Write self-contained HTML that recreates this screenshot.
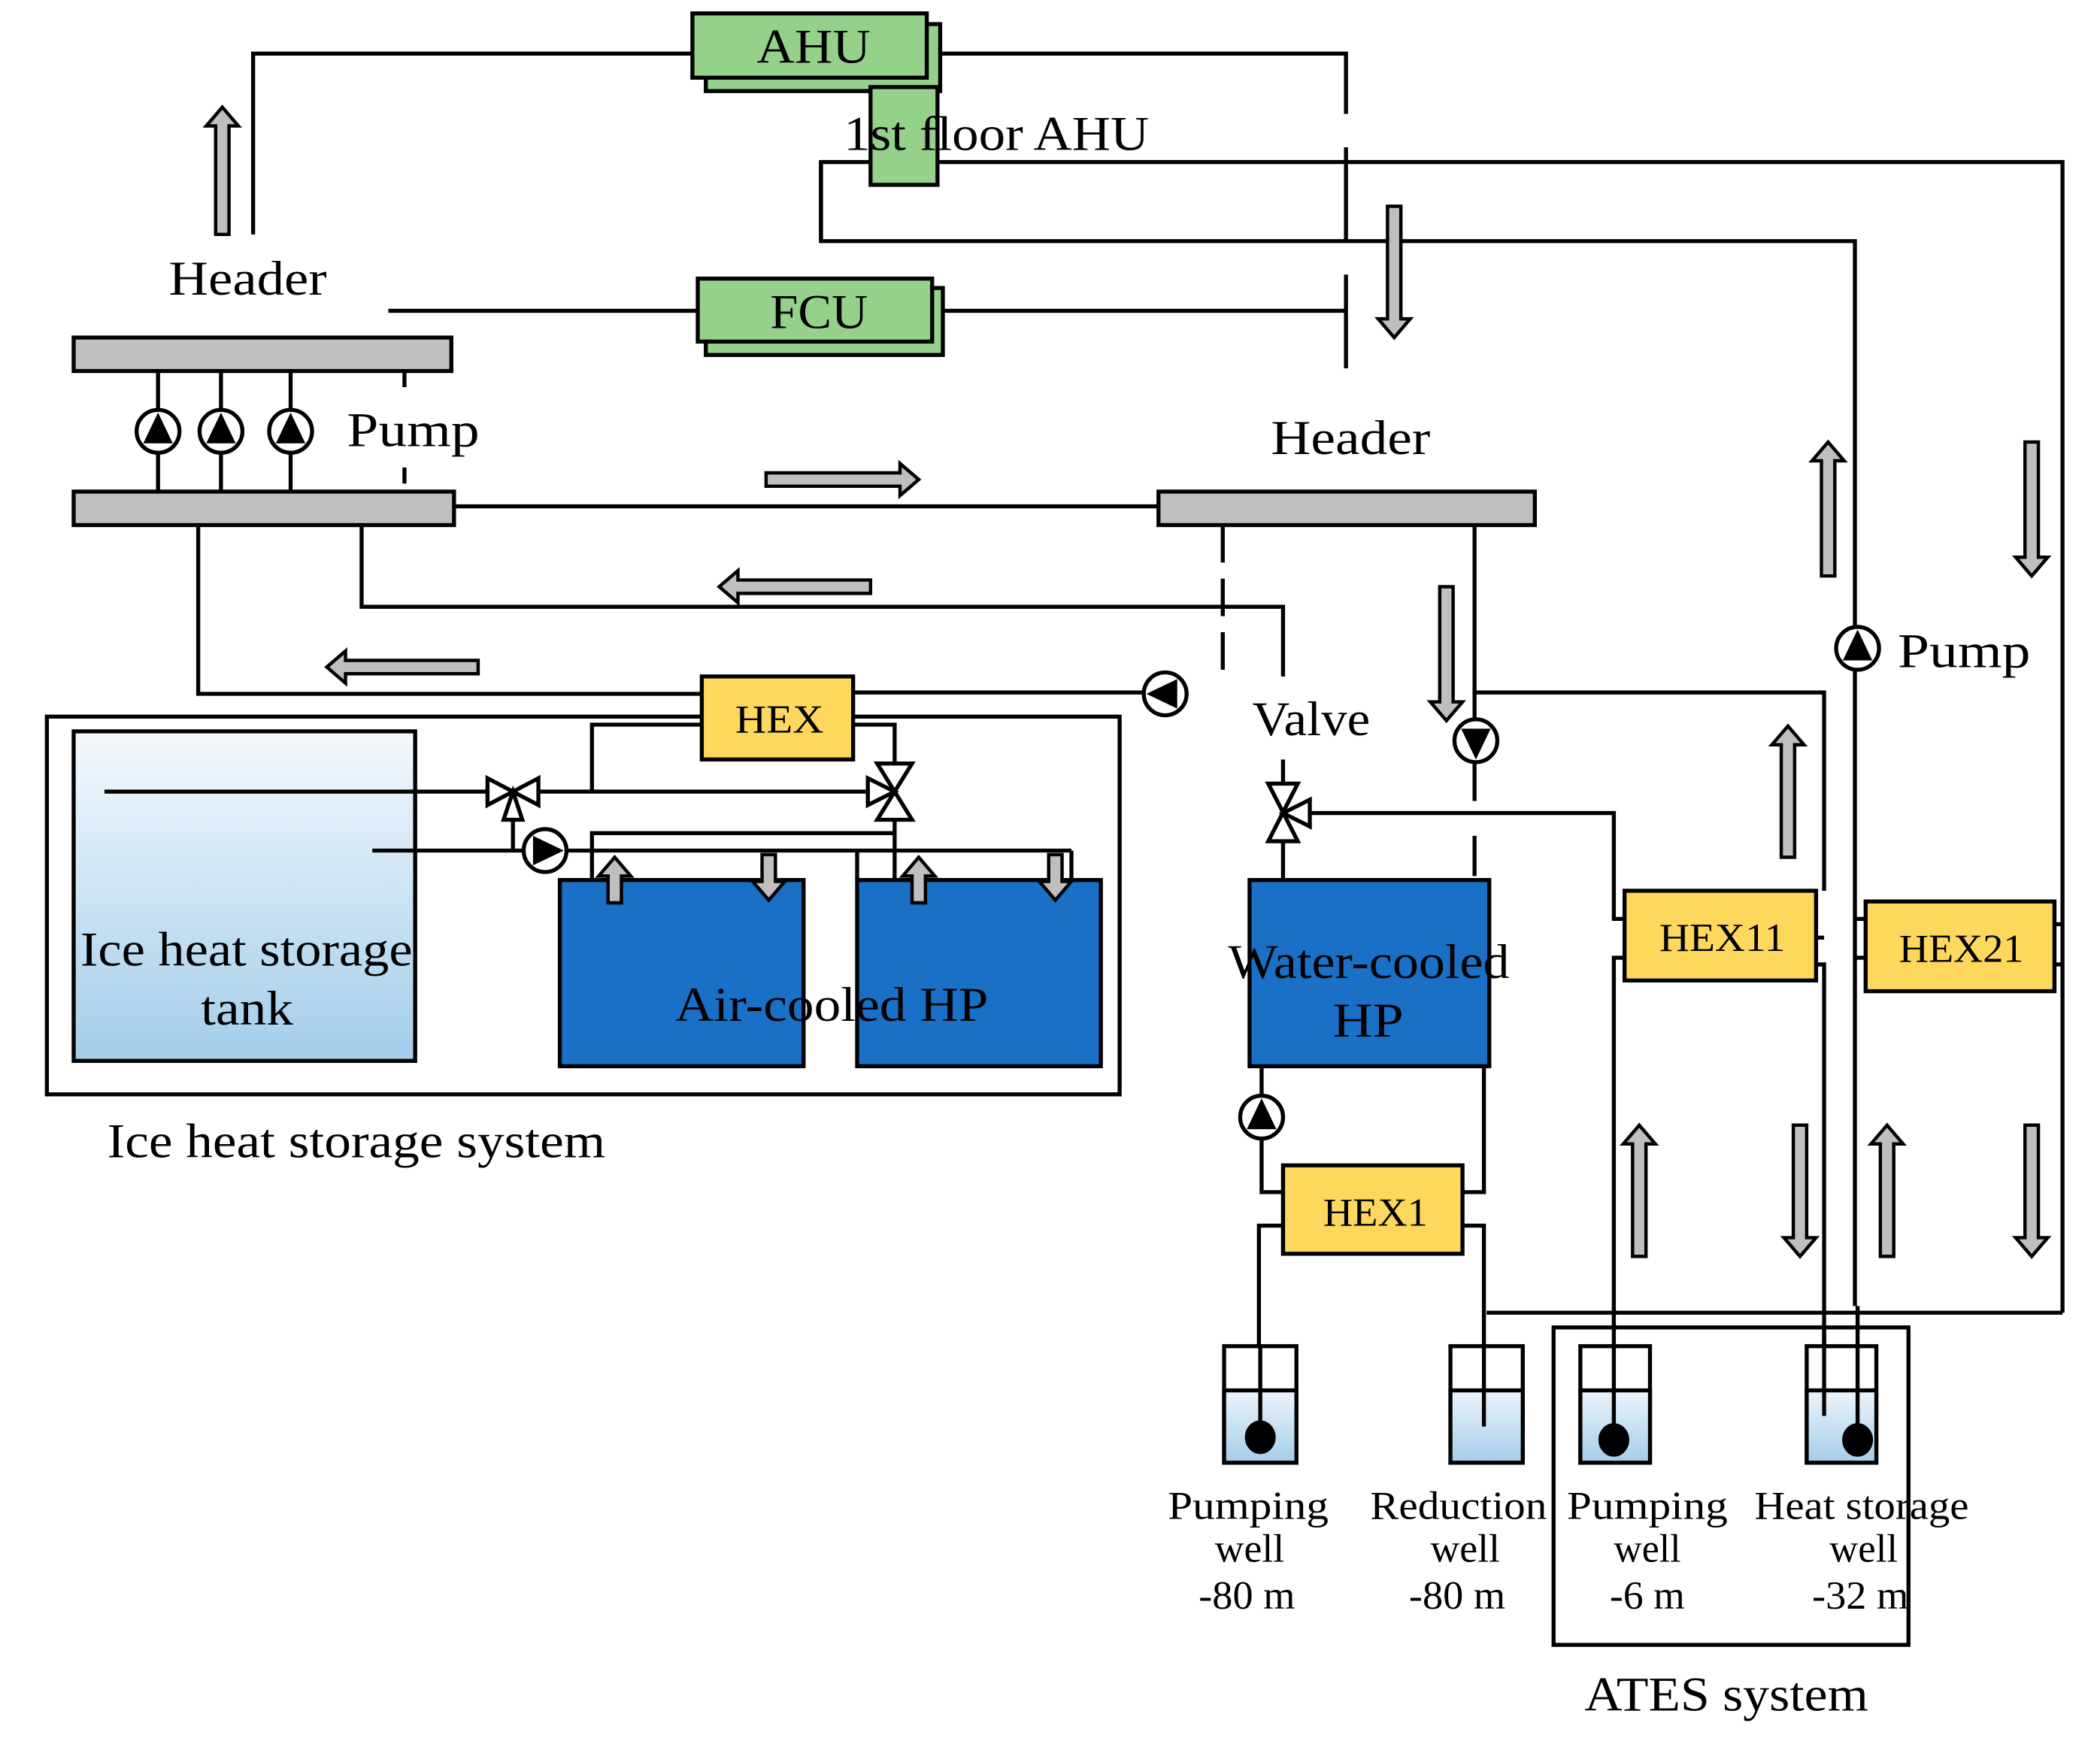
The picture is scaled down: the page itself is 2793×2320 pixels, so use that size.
<!DOCTYPE html>
<html><head><meta charset="utf-8"><style>
html,body{margin:0;padding:0;background:#fff}
svg{display:block}
text{font-family:"Liberation Serif",serif;fill:#000}
</style></head><body>
<svg width="2793" height="2320" viewBox="0 0 1568 1302" preserveAspectRatio="none" xmlns="http://www.w3.org/2000/svg">
<defs>
<linearGradient id="tk" x1="0" y1="0" x2="0" y2="1"><stop offset="0" stop-color="#f4f9fd"/><stop offset="1" stop-color="#a3cdea"/></linearGradient>
<linearGradient id="wl" x1="0" y1="0" x2="0" y2="1"><stop offset="0" stop-color="#eef5fb"/><stop offset="1" stop-color="#a3cdea"/></linearGradient>
</defs>
<g stroke="#000" stroke-width="3">
<rect x="55" y="546" width="255" height="246" fill="url(#tk)"/>
</g>
<g fill="none" stroke="#000" stroke-width="3">
<polyline points="189,175 189,40 517,40"/>
<polyline points="692,40 1005,40 1005,85"/>
<line x1="1005" y1="110" x2="1005" y2="290" stroke-dasharray="70,25"/>
<polyline points="613,180 613,121 1540,121 1540,980"/>
<polyline points="613,121 613,180 1385,180 1385,975"/>
<line x1="290" y1="232" x2="521" y2="232"/>
<line x1="704" y1="232" x2="1005" y2="232"/>
<line x1="118" y1="277" x2="118" y2="367"/>
<line x1="165" y1="277" x2="165" y2="367"/>
<line x1="217" y1="277" x2="217" y2="367"/>
<line x1="302" y1="277" x2="302" y2="367" stroke-dasharray="12,60"/>
<line x1="339" y1="378" x2="865" y2="378"/>
<polyline points="148,392 148,518 524,518"/>
<polyline points="270,392 270,453 958,453 958,505"/>
<line x1="637" y1="517" x2="855" y2="517"/>
<line x1="913" y1="392" x2="913" y2="505" stroke-dasharray="28,12"/>
<line x1="1101" y1="392" x2="1101" y2="540"/>
<line x1="1101" y1="568" x2="1101" y2="655" stroke-dasharray="30,26"/>
<rect x="35" y="535" width="801" height="282"/>
<line x1="78" y1="591" x2="366" y2="591"/>
<line x1="400" y1="591" x2="650" y2="591"/>
<polyline points="442,591 442,541 524,541"/>
<polyline points="637,541 668,541 668,572"/>
<line x1="278" y1="635" x2="392" y2="635"/>
<line x1="422" y1="635" x2="800" y2="635"/>
<line x1="383" y1="605" x2="383" y2="635"/>
<polyline points="442,657 442,622 668,622"/>
<line x1="668" y1="610" x2="668" y2="657"/>
<line x1="800" y1="635" x2="800" y2="657"/>
<line x1="640" y1="635" x2="640" y2="657"/>
<line x1="958" y1="505" x2="958" y2="590" stroke-dasharray="0,62,40"/>
<line x1="958" y1="625" x2="958" y2="657"/>
<polyline points="975,607 1205,607 1205,686 1213,686"/>
<polyline points="1101,517 1362,517 1362,665"/>
<polyline points="1356,700 1362,700"/>
<polyline points="1205,975 1205,715 1213,715"/>
<polyline points="1362,1005 1362,720 1356,720"/>
<polyline points="1385,686 1393,686"/>
<polyline points="1385,715 1393,715"/>
<polyline points="1534,690 1540,690"/>
<polyline points="1534,720 1540,720"/>
<polyline points="1110,980 1540,980"/>
<polyline points="942,796 942,818"/>
<polyline points="942,850 942,890 958,890"/>
<polyline points="1108,796 1108,890 1092,890"/>
<polyline points="958,915 940,915 940,1060"/>
<polyline points="1092,915 1108,915 1108,1060"/>
<line x1="1205" y1="975" x2="1205" y2="1075"/>
<line x1="1362" y1="990" x2="1362" y2="1040"/>
<line x1="1387" y1="975" x2="1387" y2="1075"/>
<rect x="1160" y="991" width="265" height="237"/>
</g>
<g stroke="#000" stroke-width="3">
<rect x="527" y="18" width="175" height="50" fill="#95d18b"/>
<rect x="517" y="10" width="175" height="48" fill="#95d18b"/>
<rect x="650" y="65" width="50" height="73" fill="#95d18b"/>
<rect x="527" y="215" width="177" height="50" fill="#95d18b"/>
<rect x="521" y="208" width="175" height="47" fill="#95d18b"/>
<rect x="55" y="252" width="282" height="25" fill="#bfbfbf"/>
<rect x="55" y="367" width="284" height="25" fill="#bfbfbf"/>
<rect x="865" y="367" width="281" height="25" fill="#bfbfbf"/>
<rect x="524" y="505" width="113" height="62" fill="#fdd85d"/>
<rect x="418" y="657" width="182" height="139" fill="#1a6fc6"/>
<rect x="640" y="657" width="182" height="139" fill="#1a6fc6"/>
<rect x="933" y="657" width="179" height="139" fill="#1a6fc6"/>
<rect x="958" y="870" width="134" height="66" fill="#fdd85d"/>
<rect x="1213" y="665" width="143" height="67" fill="#fdd85d"/>
<rect x="1393" y="673" width="141" height="67" fill="#fdd85d"/>
</g>
<g stroke="#000" stroke-width="3">
<g><rect x="914" y="1005" width="54" height="87" fill="#fff"/><rect x="914" y="1038" width="54" height="54" fill="url(#wl)"/><line x1="941" y1="1005" x2="941" y2="1065"/><ellipse cx="941" cy="1073" rx="10" ry="11" fill="#000"/></g>
<g><rect x="1083" y="1005" width="54" height="87" fill="#fff"/><rect x="1083" y="1038" width="54" height="54" fill="url(#wl)"/><line x1="1108" y1="1005" x2="1108" y2="1065"/></g>
<g><rect x="1180" y="1005" width="52" height="87" fill="#fff"/><rect x="1180" y="1038" width="52" height="54" fill="url(#wl)"/><line x1="1205" y1="1005" x2="1205" y2="1065"/><ellipse cx="1205" cy="1075" rx="10" ry="11" fill="#000"/></g>
<g><rect x="1349" y="1005" width="52" height="87" fill="#fff"/><rect x="1349" y="1038" width="52" height="54" fill="url(#wl)"/><line x1="1362" y1="990" x2="1362" y2="1057"/><line x1="1387" y1="1005" x2="1387" y2="1065"/><ellipse cx="1387" cy="1075" rx="10" ry="11" fill="#000"/></g>
</g>
<g stroke="#000" stroke-width="3">
<g transform="translate(118,322)"><circle r="16" fill="#fff"/><polygon points="0,-14 11,9 -11,9" fill="#000" stroke="none"/></g>
<g transform="translate(165,322)"><circle r="16" fill="#fff"/><polygon points="0,-14 11,9 -11,9" fill="#000" stroke="none"/></g>
<g transform="translate(217,322)"><circle r="16" fill="#fff"/><polygon points="0,-14 11,9 -11,9" fill="#000" stroke="none"/></g>
<g transform="translate(870,518) rotate(-90)"><circle r="16" fill="#fff"/><polygon points="0,-14 11,9 -11,9" fill="#000" stroke="none"/></g>
<g transform="translate(407,635) rotate(90)"><circle r="16" fill="#fff"/><polygon points="0,-14 11,9 -11,9" fill="#000" stroke="none"/></g>
<g transform="translate(1102,553) rotate(180)"><circle r="16" fill="#fff"/><polygon points="0,-14 11,9 -11,9" fill="#000" stroke="none"/></g>
<g transform="translate(942,834)"><circle r="16" fill="#fff"/><polygon points="0,-14 11,9 -11,9" fill="#000" stroke="none"/></g>
<g transform="translate(1387,484)"><circle r="16" fill="#fff"/><polygon points="0,-14 11,9 -11,9" fill="#000" stroke="none"/></g>
</g>
<g stroke="#000" stroke-width="3" fill="#fff">
<polygon points="364,581 364,601 402,581 402,601"/>
<polygon points="383,591 376,612 390,612"/>
<polygon points="655,570 681,570 655,612 681,612"/>
<polygon points="668,591 648,581 648,601"/>
<polygon points="947,585 969,585 947,628 969,628"/>
<polygon points="958,607 978,597 978,617"/>
</g>
<g fill="#bfbfbf" stroke="#000" stroke-width="2.5">
<polygon transform="translate(166,80)" points="0,0 12,14 5,14 5,95 -5,95 -5,14 -12,14"/>
<polygon transform="translate(1041,252) rotate(180)" points="0,0 12,14 5,14 5,98 -5,98 -5,14 -12,14"/>
<polygon transform="translate(686,358) rotate(90)" points="0,0 12,14 5,14 5,114 -5,114 -5,14 -12,14"/>
<polygon transform="translate(537,438) rotate(-90)" points="0,0 12,14 5,14 5,113 -5,113 -5,14 -12,14"/>
<polygon transform="translate(244,498) rotate(-90)" points="0,0 12,14 5,14 5,113 -5,113 -5,14 -12,14"/>
<polygon transform="translate(1080,538) rotate(180)" points="0,0 12,14 5,14 5,100 -5,100 -5,14 -12,14"/>
<polygon transform="translate(1365,330)" points="0,0 12,14 5,14 5,100 -5,100 -5,14 -12,14"/>
<polygon transform="translate(1517,430) rotate(180)" points="0,0 12,14 5,14 5,100 -5,100 -5,14 -12,14"/>
<polygon transform="translate(1335,542)" points="0,0 12,14 5,14 5,98 -5,98 -5,14 -12,14"/>
<polygon transform="translate(1224,840)" points="0,0 12,14 5,14 5,98 -5,98 -5,14 -12,14"/>
<polygon transform="translate(1344,938) rotate(180)" points="0,0 12,14 5,14 5,98 -5,98 -5,14 -12,14"/>
<polygon transform="translate(1409,840)" points="0,0 12,14 5,14 5,98 -5,98 -5,14 -12,14"/>
<polygon transform="translate(1517,938) rotate(180)" points="0,0 12,14 5,14 5,98 -5,98 -5,14 -12,14"/>
<polygon transform="translate(459,640)" points="0,0 12,14 5,14 5,34 -5,34 -5,14 -12,14"/>
<polygon transform="translate(574,672) rotate(180)" points="0,0 12,14 5,14 5,34 -5,34 -5,14 -12,14"/>
<polygon transform="translate(686,640)" points="0,0 12,14 5,14 5,34 -5,34 -5,14 -12,14"/>
<polygon transform="translate(788,672) rotate(180)" points="0,0 12,14 5,14 5,34 -5,34 -5,14 -12,14"/>
</g>
<g font-size="36" lengthAdjust="spacingAndGlyphs">
<text x="565" y="47" textLength="85" lengthAdjust="spacingAndGlyphs">AHU</text>
<text x="630" y="112" textLength="228" lengthAdjust="spacingAndGlyphs">1st floor AHU</text>
<text x="575" y="245" textLength="73" lengthAdjust="spacingAndGlyphs">FCU</text>
<text x="126" y="220" textLength="118" lengthAdjust="spacingAndGlyphs">Header</text>
<text x="259" y="333" textLength="99" lengthAdjust="spacingAndGlyphs">Pump</text>
<text x="949" y="339" textLength="119" lengthAdjust="spacingAndGlyphs">Header</text>
<text x="935" y="549" textLength="88" lengthAdjust="spacingAndGlyphs">Valve</text>
<text x="1417" y="498" textLength="99" lengthAdjust="spacingAndGlyphs">Pump</text>
<text x="60" y="721" textLength="248" lengthAdjust="spacingAndGlyphs">Ice heat storage</text>
<text x="150" y="765" textLength="69" lengthAdjust="spacingAndGlyphs">tank</text>
<text x="504" y="762" textLength="234" lengthAdjust="spacingAndGlyphs">Air-cooled  HP</text>
<text x="917" y="730" textLength="210" lengthAdjust="spacingAndGlyphs">Water-cooled</text>
<text x="995" y="774" textLength="53" lengthAdjust="spacingAndGlyphs">HP</text>
<text x="80" y="864" textLength="372" lengthAdjust="spacingAndGlyphs">Ice heat storage system</text>
<text x="1183" y="1277" textLength="212" lengthAdjust="spacingAndGlyphs">ATES system</text>
</g>
<g font-size="30">
<text x="549" y="547" textLength="66" lengthAdjust="spacingAndGlyphs">HEX</text>
<text x="988" y="915" textLength="78" lengthAdjust="spacingAndGlyphs">HEX1</text>
<text x="1239" y="710" textLength="94" lengthAdjust="spacingAndGlyphs">HEX11</text>
<text x="1418" y="718" textLength="93" lengthAdjust="spacingAndGlyphs">HEX21</text>
<text x="872" y="1134" textLength="120" lengthAdjust="spacingAndGlyphs">Pumping</text>
<text x="907" y="1166" textLength="52" lengthAdjust="spacingAndGlyphs">well</text>
<text x="895" y="1201" textLength="72" lengthAdjust="spacingAndGlyphs">-80 m</text>
<text x="1023" y="1134" textLength="132" lengthAdjust="spacingAndGlyphs">Reduction</text>
<text x="1068" y="1166" textLength="52" lengthAdjust="spacingAndGlyphs">well</text>
<text x="1052" y="1201" textLength="72" lengthAdjust="spacingAndGlyphs">-80 m</text>
<text x="1170" y="1134" textLength="120" lengthAdjust="spacingAndGlyphs">Pumping</text>
<text x="1205" y="1166" textLength="50" lengthAdjust="spacingAndGlyphs">well</text>
<text x="1202" y="1201" textLength="56" lengthAdjust="spacingAndGlyphs">-6 m</text>
<text x="1310" y="1134" textLength="160" lengthAdjust="spacingAndGlyphs">Heat storage</text>
<text x="1366" y="1166" textLength="51" lengthAdjust="spacingAndGlyphs">well</text>
<text x="1353" y="1201" textLength="72" lengthAdjust="spacingAndGlyphs">-32 m</text>
</g>
</svg>
</body></html>
